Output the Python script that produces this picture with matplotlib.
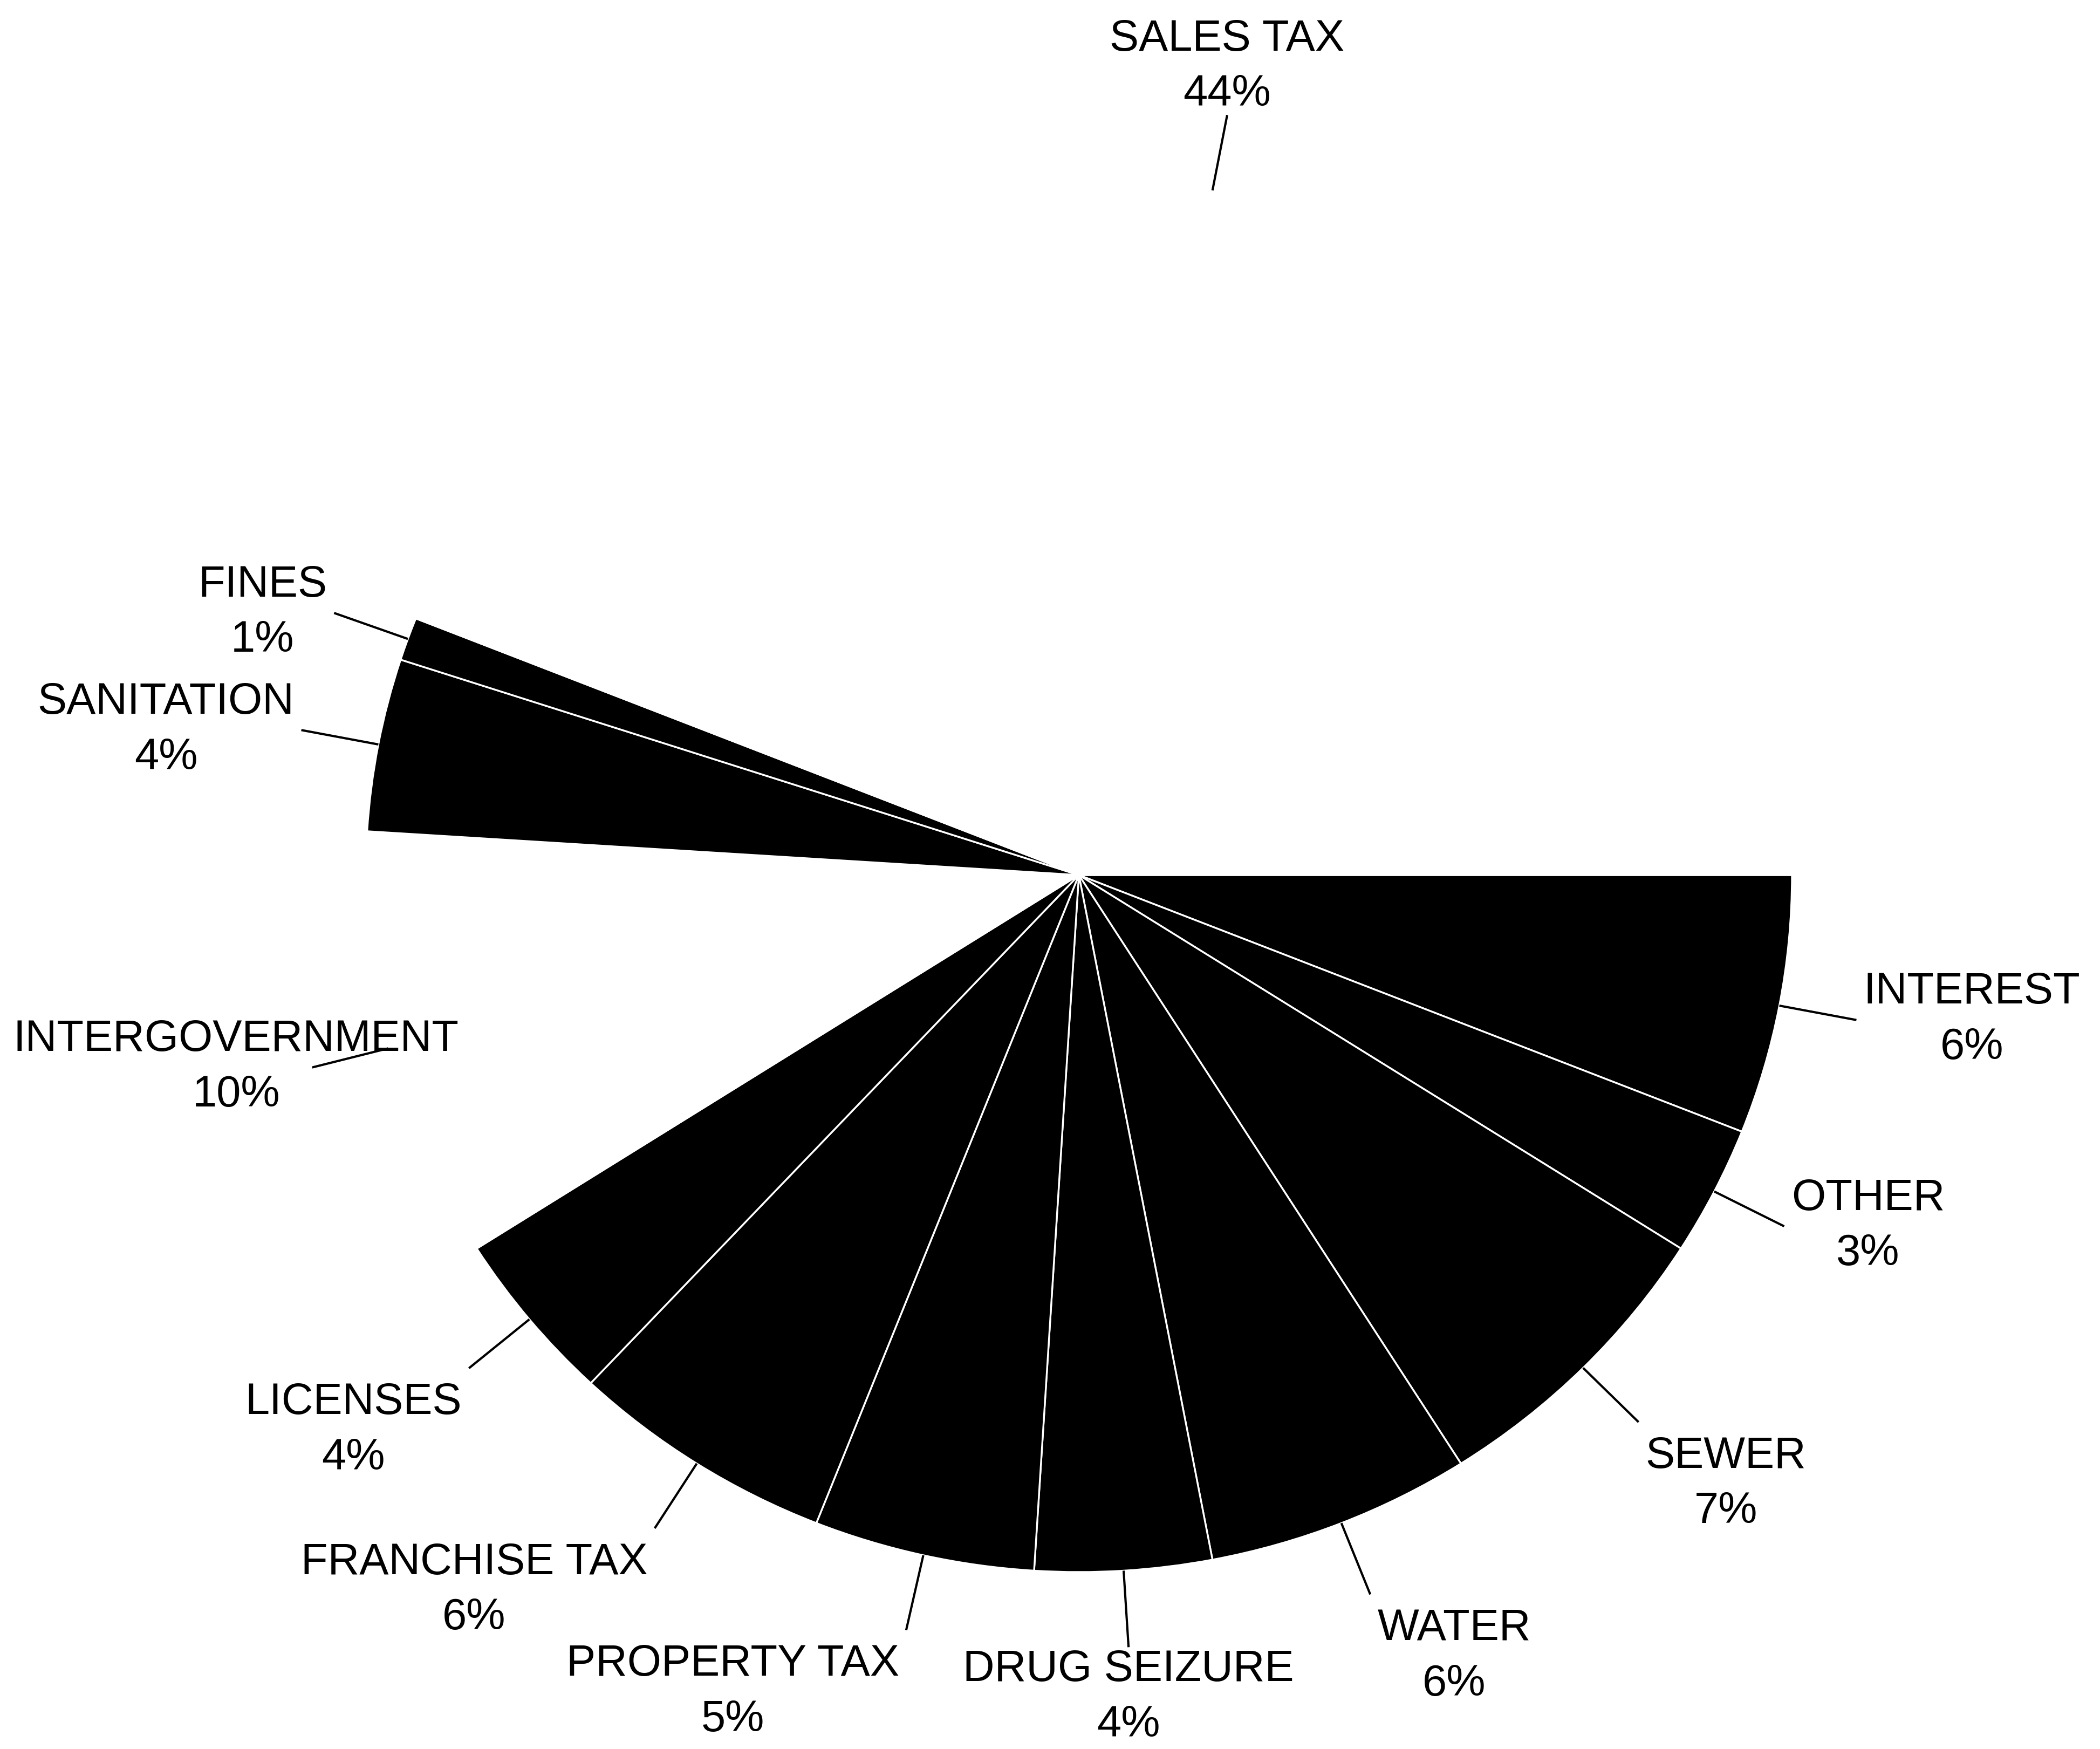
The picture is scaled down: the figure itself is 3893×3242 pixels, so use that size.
import numpy as np
import matplotlib as mpl
import matplotlib.pyplot as plt

mpl.rcParams['font.family'] = ['Liberation Sans', 'DejaVu Sans']

# revenue sources, clockwise from 3 o'clock
categories = ['INTEREST', 'OTHER', 'SEWER', 'WATER', 'DRUG SEIZURE',
              'PROPERTY TAX', 'FRANCHISE TAX', 'LICENSES', 'INTERGOVERNMENT',
              'SANITATION', 'FINES', 'SALES TAX']
shares = [6, 3, 7, 6, 4, 5, 6, 4, 10, 4, 1, 44]

# these two slices are left blank (white on white)
blank = ['INTERGOVERNMENT', 'SALES TAX']

# ---- canvas --------------------------------------------------------------
W, H, DPI = 3893, 3242, 300
cx, cy = 2000, 1622          # pie centre in pixels
rx, ry = 1322, 1292          # pixels per unit (page is slightly squashed)

fig = plt.figure(figsize=(W / DPI, H / DPI), dpi=DPI)
ax = fig.add_axes([0, 0, 1, 1])

colors = ['white' if c in blank else 'black' for c in categories]
wedges, _ = ax.pie(shares, colors=colors, startangle=0, counterclock=False,
                   radius=1.0,
                   wedgeprops=dict(edgecolor='white', linewidth=0.8))

ax.set_xlim(-cx / rx, (W - cx) / rx)
ax.set_ylim(-(H - cy) / ry, cy / ry)
ax.set_aspect('auto')
ax.axis('off')

# ---- leader lines + labels -----------------------------------------------
r_in, r_out = 1.0, 1.11
hgap, vgap_top, vgap_bot = 0.01, 0.02, 0.0

texts = []
for w, name, pct in zip(wedges, categories, shares):
    a = np.deg2rad(0.5 * (w.theta1 + w.theta2))
    c, s = np.cos(a), np.sin(a)
    ax.plot([r_in * c, r_out * c], [r_in * s, r_out * s],
            color='black', lw=1.0, solid_capstyle='butt')

    x, y = r_out * c, r_out * s
    if c > 0.2:
        ha, x = 'left', x + hgap
    elif c < -0.2:
        ha, x = 'right', x - hgap
    else:
        ha = 'center'
    if s < -0.6:
        va, y = 'top', y - vgap_top
    elif s > 0.6:
        va, y = 'bottom', y + vgap_bot
    else:
        va = 'center'

    t = ax.text(x, y, f'{name}\n{pct}%', ha=ha, va=va,
                multialignment='center', fontsize=19.5, linespacing=1.45)
    texts.append(t)

# keep labels inside the page
fig.canvas.draw()
rend = fig.canvas.get_renderer()
margin = 25
for t in texts:
    bb = t.get_window_extent(rend)
    dx = dy = 0
    if bb.x0 < margin:
        dx = margin - bb.x0
    elif bb.x1 > W - margin:
        dx = (W - margin) - bb.x1
    if bb.y0 < 6:
        dy = 6 - bb.y0
    if dx or dy:
        x, y = t.get_position()
        t.set_position((x + dx / rx, y + dy / ry))

fig.savefig('out.png', dpi=DPI, facecolor='white')
